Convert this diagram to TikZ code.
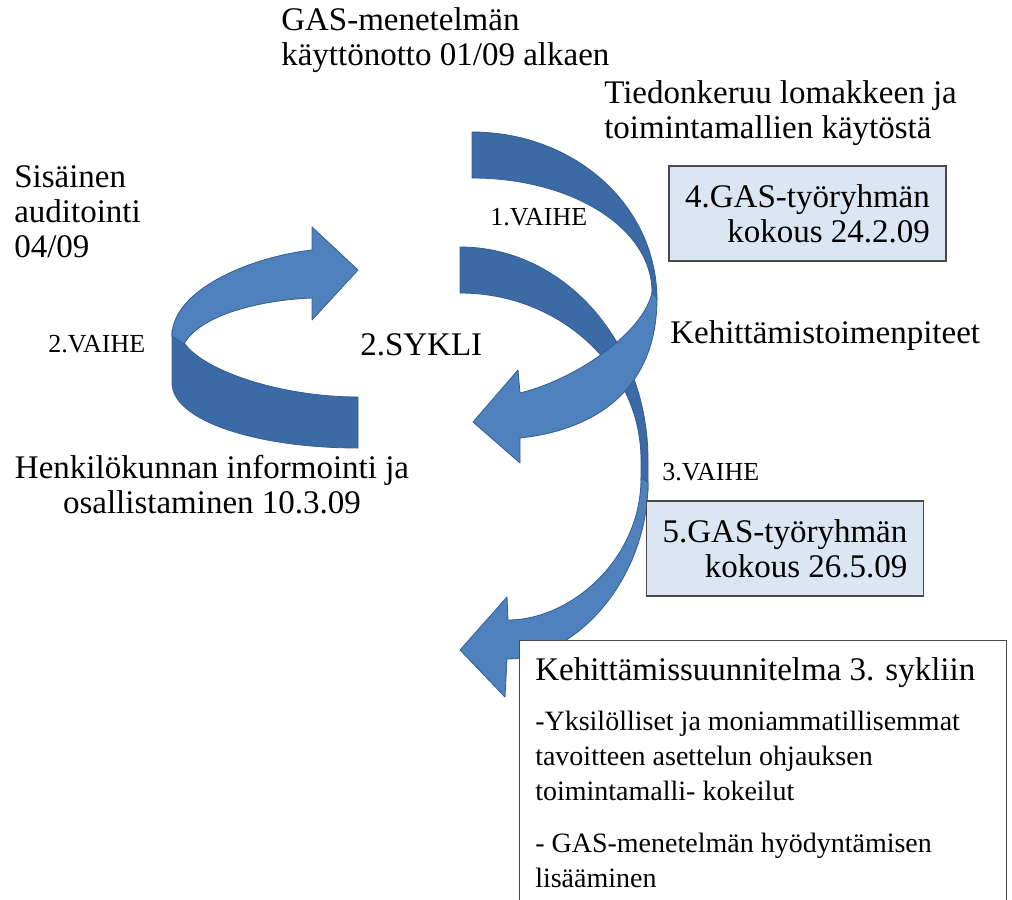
\documentclass[tikz,border=0pt]{standalone}
\usepackage{fontspec}
\setmainfont{Liberation Serif}
\definecolor{ribbonback}{HTML}{3C6AA5}
\definecolor{ribbonfront}{HTML}{4F81BD}
\definecolor{ribbonedge}{HTML}{335D93}
\definecolor{notefill}{HTML}{DCE6F2}
\definecolor{noteedge}{HTML}{4A4A4A}
\begin{document}
\begin{tikzpicture}[x=0.75pt,y=-0.75pt,
  back/.style={fill=ribbonback,draw=ribbonedge,line width=0.6pt,line join=round},
  front/.style={fill=ribbonfront,draw=ribbonedge,line width=0.6pt,line join=round},
  lbl/.style={font=\fontsize{24.75pt}{26.25pt}\selectfont,inner sep=0pt,align=left,anchor=base west},
  item/.style={font=\fontsize{21pt}{26.25pt}\selectfont,inner sep=0pt,align=left,anchor=base west},
  phase/.style={font=\fontsize{19.5pt}{22pt}\selectfont,inner sep=0pt,anchor=base west},
  note/.style={draw=noteedge,line width=1.1pt,fill=notefill,minimum width=207.5pt,minimum height=71.25pt,
    align=right,font=\fontsize{24.75pt}{26.25pt}\selectfont,inner sep=0pt},
]
\useasboundingbox (0,0) rectangle (1012,899);
\clip (0,0) rectangle (1012,899);

% long ribbon of phase 3: back half, then front half with head
\path[back] (460,247) .. controls (564,247) and (648,342) .. (648,460) -- (648,492) -- (641,480)
  -- (641,460) .. controls (641,368) and (560,293) .. (460,293) -- cycle;
\path[front] (641,478) -- (648,482) .. controls (648,580) and (575,659) .. (507,659)
  -- (505,697) -- (460,650) -- (507,597) -- (508,620)
  .. controls (570,620) and (641,560) .. (641,478) -- cycle;

% ribbon of phase 1
\path[back] (472,132) .. controls (574,132) and (657,205) .. (657,300) -- (652,292)
  .. controls (652,228) and (572,178) .. (472,178) -- cycle;
\path[front] (652,292) -- (657,298) .. controls (657,390) and (595,430) .. (520,438)
  -- (520,463) -- (473,422) -- (518,370) -- (520,393)
  .. controls (580,378) and (645,330) .. (652,292) -- cycle;

% ribbon of the second cycle (left)
\path[back] (172,330) -- (183,341) .. controls (200,370) and (280,397) .. (358,397)
  -- (358,448) .. controls (255,448) and (172,420) .. (172,383) -- cycle;
\path[front] (184,344) .. controls (200,315) and (260,300) .. (312,298)
  -- (312,320) -- (358,270) -- (312,227) -- (312,250)
  .. controls (250,257) and (172,290) .. (172,336) -- cycle;

% labels (multi-line nodes sit on the baseline of their last line)
\node[lbl] (gas) at (281,65) {GAS-menetelmän\\käyttönotto 01/09 alkaen};
\node[lbl] (tiedon) at (604,138) {Tiedonkeruu lomakkeen ja\\toimintamallien käytöstä};
\node[lbl] (audit) at (14,257) {Sisäinen\\auditointi\\04/09};
\node[phase] (v1) at (490,225) {1.VAIHE};
\node[phase] (v2) at (48,352) {2.VAIHE};
\node[lbl] (sykli) at (360,355) {2.SYKLI};
\node[lbl] (kehtp) at (670,343) {Kehittämistoimenpiteet};
\node[lbl,align=center,anchor=base] (henk) at (212,513) {Henkilökunnan informointi ja\\osallistaminen 10.3.09};
\node[phase] (v3) at (662,480) {3.VAIHE};

% meeting boxes
\node[note] (k4) at (807.5,213.5) {4.GAS-työryhmän\\kokous 24.2.09};
\node[note] (k5) at (785,548.5) {5.GAS-työryhmän\\kokous 26.5.09};

% plan for the third cycle
\node[draw=noteedge,line width=1.1pt,fill=white,anchor=north west,inner sep=0pt,
  minimum width=365.25pt,minimum height=210pt] (plan) at (519,640) {};
\node[lbl] (plantitle) at (535,680) {Kehittämissuunnitelma 3. sykliin};
\node[item] (plana) at (535,800) {-Yksilölliset ja moniammatillisemmat\\tavoitteen asettelun ohjauksen\\toimintamalli- kokeilut};
\node[item] (planb) at (535,887) {- GAS-menetelmän hyödyntämisen\\lisääminen};
\end{tikzpicture}
\end{document}
